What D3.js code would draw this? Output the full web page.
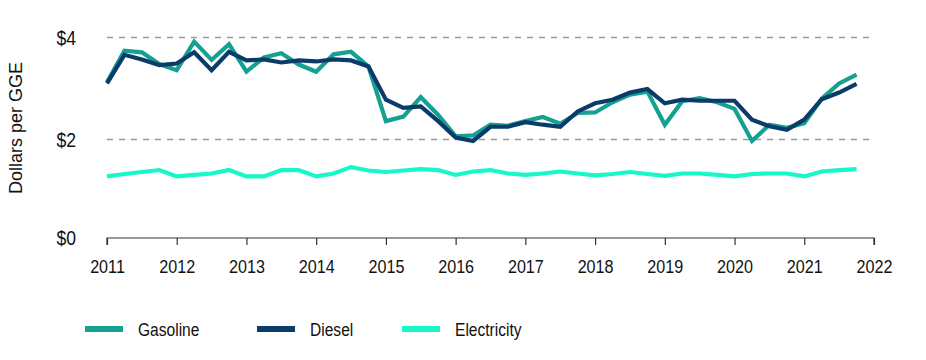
<!DOCTYPE html>
<html>
<head>
<meta charset="utf-8">
<script src="https://cdn.jsdelivr.net/npm/d3@7/dist/d3.min.js"></script>
<style>
  html, body { margin: 0; padding: 0; background: #fff; }
  svg { display: block; font-family: "Liberation Sans", Arial, Helvetica, sans-serif; }
</style>
</head>
<body>
<svg id="chart" width="926" height="360"></svg>
<script>
// ---- data ----
const quarters = [
  "2011-Q1","2011-Q2","2011-Q3","2011-Q4","2012-Q1","2012-Q2","2012-Q3","2012-Q4",
  "2013-Q1","2013-Q2","2013-Q3","2013-Q4","2014-Q1","2014-Q2","2014-Q3","2014-Q4",
  "2015-Q1","2015-Q2","2015-Q3","2015-Q4","2016-Q1","2016-Q2","2016-Q3","2016-Q4",
  "2017-Q1","2017-Q2","2017-Q3","2017-Q4","2018-Q1","2018-Q2","2018-Q3","2018-Q4",
  "2019-Q1","2019-Q2","2019-Q3","2019-Q4","2020-Q1","2020-Q2","2020-Q3","2020-Q4",
  "2021-Q1","2021-Q2","2021-Q3","2021-Q4"
];
const gasoline = [
  3.12, 3.74, 3.71, 3.48, 3.36, 3.92, 3.56, 3.87, 3.33, 3.61, 3.69, 3.47,
  3.33, 3.67, 3.72, 3.43, 2.36, 2.45, 2.83, 2.48, 2.06, 2.08, 2.29, 2.27,
  2.36, 2.44, 2.31, 2.52, 2.53, 2.73, 2.88, 2.94, 2.29, 2.75, 2.81, 2.73,
  2.60, 1.97, 2.29, 2.23, 2.32, 2.80, 3.10, 3.27
];
const diesel = [
  3.10, 3.66, 3.57, 3.46, 3.49, 3.71, 3.36, 3.72, 3.55, 3.57, 3.51, 3.55,
  3.53, 3.57, 3.55, 3.43, 2.78, 2.62, 2.65, 2.36, 2.04, 1.97, 2.25, 2.25,
  2.34, 2.29, 2.25, 2.55, 2.71, 2.78, 2.92, 2.99, 2.71, 2.78, 2.76, 2.76,
  2.76, 2.39, 2.26, 2.19, 2.39, 2.79, 2.92, 3.09
];
const electricity = [
  1.25, 1.30, 1.34, 1.38, 1.25, 1.28, 1.31, 1.38, 1.25, 1.25, 1.38, 1.38,
  1.25, 1.31, 1.44, 1.37, 1.34, 1.37, 1.40, 1.38, 1.28, 1.35, 1.38, 1.31,
  1.28, 1.31, 1.35, 1.31, 1.27, 1.30, 1.34, 1.30, 1.26, 1.31, 1.31, 1.28,
  1.25, 1.30, 1.31, 1.31, 1.25, 1.35, 1.38, 1.40
];
const yearTicks = [2011,2012,2013,2014,2015,2016,2017,2018,2019,2020,2021,2022];
const yTicks = [0, 2, 4];
const yTickLabels = ["$0", "$2", "$4"];
const gridValues = [2, 4];
const seriesNames = ["Gasoline", "Diesel", "Electricity"];
const seriesColors = ["#14a192", "#0b3c69", "#17f7c9"];
const yTitle = "Dollars per GGE";

// ---- helpers ----
function qToYear(q) {
  const [y, qq] = q.split("-Q");
  return +y + (+qq - 1) / 4;
}

const svg = d3.select("#chart");
const x = d3.scaleLinear().domain([2011, 2022]).range([107, 874]);
const y = d3.scaleLinear().domain([0, 2, 4]).range([238, 139.5, 37.5]);

// gridlines
svg.append("g").selectAll("line").data(gridValues).join("line")
  .attr("x1", x(2011)).attr("x2", x(2022))
  .attr("y1", d => y(d)).attr("y2", d => y(d))
  .attr("stroke", "#9b9b9b").attr("stroke-width", 1.6)
  .attr("stroke-dasharray", "6,6");

// x axis
const xAxis = d3.axisBottom(x).tickValues(yearTicks).tickFormat(d3.format("d"))
  .tickSize(7).tickPadding(15);
const gx = svg.append("g").attr("transform", `translate(0,${y(0)})`).call(xAxis);
gx.attr("font-family", null).attr("font-size", null);
gx.select(".domain").attr("stroke", "#333").attr("stroke-width", 1.2)
  .attr("d", `M${x(2011)},7V0H${x(2022)}V7`);
gx.selectAll(".tick line").attr("stroke", "#333").attr("stroke-width", 1.2);
gx.selectAll(".tick text").attr("fill", "#111")
  .style("font-size", "19px")
  .attr("transform", "scale(0.85,1)");

// y labels
svg.append("g").selectAll("text").data(yTicks).join("text")
  .attr("transform", d => `translate(76,${y(d)}) scale(0.88,1)`)
  .attr("x", 0).attr("y", 0).attr("dy", "0.35em")
  .attr("text-anchor", "end").attr("fill", "#111")
  .style("font-size", "20px")
  .text((d, i) => yTickLabels[i]);

// y title
svg.append("text")
  .attr("transform", `translate(22,128) rotate(-90)`)
  .attr("text-anchor", "middle").attr("fill", "#111")
  .style("font-size", "18px")
  .text(yTitle);

// lines
const seriesData = [gasoline, diesel, electricity];
const line = d3.line().x(d => x(d.t)).y(d => y(d.v)).curve(d3.curveLinear);
seriesData.forEach((vals, si) => {
  const pts = quarters.map((q, i) => ({ t: qToYear(q), v: vals[i] }));
  svg.append("path").datum(pts)
    .attr("d", line)
    .attr("fill", "none")
    .attr("stroke", seriesColors[si])
    .attr("stroke-width", 4.2)
    .attr("stroke-linejoin", "miter")
    .attr("stroke-miterlimit", 4);
});

// legend
const legendX = [85, 257, 402];
const lg = svg.append("g").selectAll("g").data(seriesNames).join("g")
  .attr("transform", (d, i) => `translate(${legendX[i]},329)`);
lg.append("line").attr("x1", 0).attr("x2", 38).attr("y1", 0).attr("y2", 0)
  .attr("stroke", (d, i) => seriesColors[i]).attr("stroke-width", 6);
lg.append("text")
  .attr("transform", "translate(53,0) scale(0.82,1)")
  .attr("x", 0).attr("y", 0).attr("dy", "0.35em")
  .attr("fill", "#111").style("font-size", "19px")
  .text(d => d);
</script>
</body>
</html>
